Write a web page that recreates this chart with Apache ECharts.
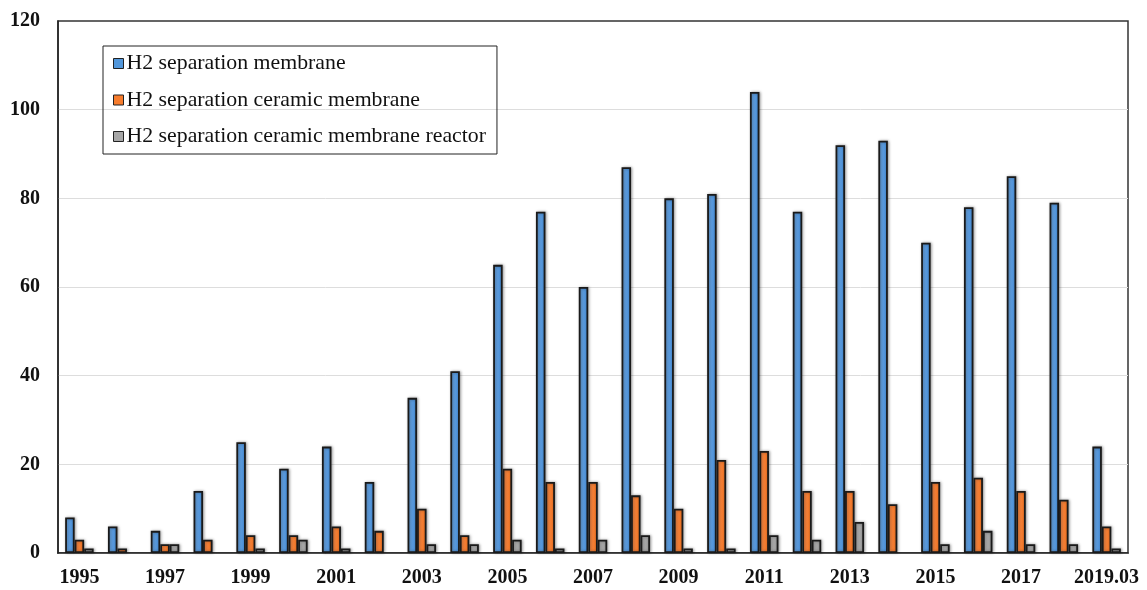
<!DOCTYPE html>
<html>
<head>
<meta charset="utf-8">
<script src="https://cdn.jsdelivr.net/npm/echarts@6/dist/echarts.min.js"></script>
<style>
html,body{margin:0;padding:0;background:#fff;}
#c{width:1147px;height:590px;}
</style>
</head>
<body>
<div id="c"></div>
<script>
const categories = ['1995','1996','1997','1998','1999','2000','2001','2002','2003','2004','2005','2006','2007','2008','2009','2010','2011','2012','2013','2014','2015','2016','2017','2018','2019.03'];
const seriesNames = ['H2 separation membrane','H2 separation ceramic membrane','H2 separation ceramic membrane reactor'];
const membrane = [8,6,5,14,25,19,24,16,35,41,65,77,60,87,80,81,104,77,92,93,70,78,85,79,24];
const ceramic = [3,1,2,3,4,4,6,5,10,4,19,16,16,13,10,21,23,14,14,11,16,17,14,12,6];
const reactor = [1,0,2,0,1,3,1,0,2,2,3,1,3,4,1,1,4,3,7,0,2,5,2,2,1];
const yTicks = [0,20,40,60,80,100,120];

function grad(c1, c2){
  return new echarts.graphic.LinearGradient(0,0,1,0,[{offset:0,color:c1},{offset:1,color:c2}]);
}
const colors = [grad('#73AEEA','#4289D4'), grad('#FF9250','#EE6F1C'), grad('#BBBBBB','#979797')];
const flat = ['#5297DB','#F77C2C','#A6A6A6'];
const dataArr = [membrane, ceramic, reactor];

const chart = echarts.init(document.getElementById('c'));
const serif = '"Liberation Serif","Times New Roman",serif';
chart.setOption({
  animation:false,
  backgroundColor:'#fff',
  color: flat,
  grid:{left:58,right:19,top:21,bottom:37,show:true,borderColor:'#333',borderWidth:1.5},
  legend:{
    orient:'vertical', left:103, top:46,
    padding:[6,11,6,10],
    borderColor:'#222', borderWidth:1,
    itemWidth:10, itemHeight:10, itemGap:13.5,
    icon:'rect',
    textStyle:{fontFamily:serif,fontSize:21.8,color:'#111',lineHeight:23,padding:[0,0,0,-2]},
    data: seriesNames.map((n,i)=>({name:n,itemStyle:{color:flat[i],borderColor:'#222',borderWidth:1}}))
  },
  xAxis:{
    type:'category', data:categories,
    axisLine:{lineStyle:{color:'#222',width:1.5}},
    axisTick:{show:false},
    axisLabel:{interval:1,fontFamily:serif,fontWeight:'bold',fontSize:20,color:'#111',margin:15}
  },
  yAxis:{
    type:'value', min:0, max:120, interval:20,
    axisLine:{show:true,lineStyle:{color:'#222',width:1.5}},
    axisTick:{show:false},
    splitLine:{showMaxLine:false,lineStyle:{color:'#ddd',width:1}},
    axisLabel:{fontFamily:serif,fontWeight:'bold',fontSize:20,color:'#111',margin:18}
  },
  series: dataArr.map((d,i)=>({
    name:seriesNames[i], type:'bar', data:d.map(v=>v===0?null:v),
    barWidth:9.5, barGap:'0%',
    itemStyle:{color:colors[i],borderColor:'#1a1a1a',borderWidth:1.8,shadowColor:'rgba(0,0,0,0.35)',shadowBlur:3,shadowOffsetX:1,shadowOffsetY:0}
  }))
});
</script>
</body>
</html>
